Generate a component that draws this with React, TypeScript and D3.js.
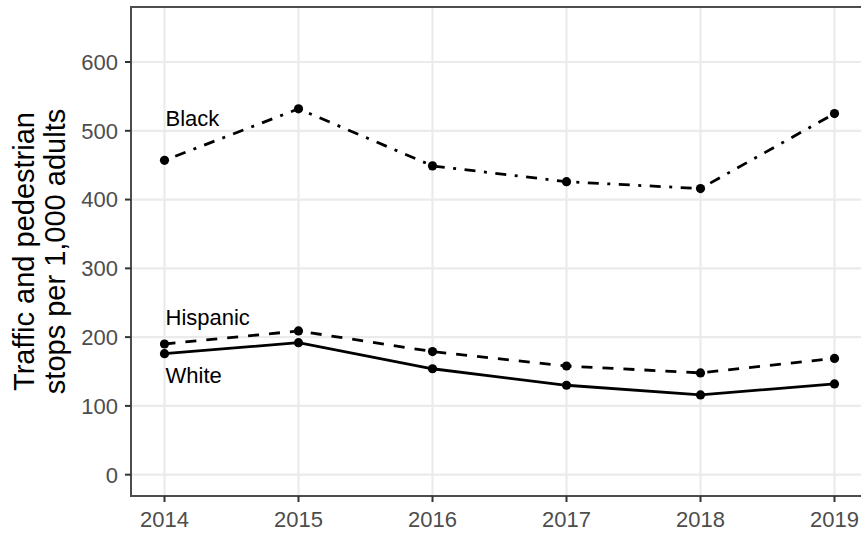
import * as d3 from "d3";

const years = [2014, 2015, 2016, 2017, 2018, 2019];
const blackStops = [457, 532, 449, 426, 416, 525];
const hispanicStops = [190, 209, 179, 158, 148, 169];
const whiteStops = [176, 192, 154, 130, 116, 132];
const yTicks = [0, 100, 200, 300, 400, 500, 600];

const W = 861;
const H = 533;
const FONT = "'Liberation Sans', Arial, Helvetica, sans-serif";

const series = [
  {name: "Black", values: blackStops, dash: "3,8.5,11,8.5", labelYear: 2014, labelDy: -34},
  {name: "Hispanic", values: hispanicStops, dash: "11,10", labelYear: 2014, labelDy: -19},
  {name: "White", values: whiteStops, dash: null, labelYear: 2014, labelDy: 29},
];

export default function App() {
  // panel edges
  const left = 131;
  const top = 7;
  const bottom = 496;

  const x = d3.scaleLinear().domain([2013.75, 2019.25]).range([left, left + 737]);
  const y = d3.scaleLinear().domain([-31, 680]).range([bottom, top]);

  const line = d3
    .line<number>()
    .x((_, i) => x(years[i]))
    .y((d) => y(d));

  return (
    <div style={{position: "fixed", left: 0, top: 0, background: "white"}}>
      <svg width={W} height={H} style={{display: "block", fontFamily: FONT}}>
        <rect x={0} y={0} width={W} height={H} fill="white" />

        {/* grid */}
        {yTicks.map((t) => (
          <line key={"gy" + t} x1={left} x2={W} y1={y(t)} y2={y(t)} stroke="#ebebeb" strokeWidth={2.2} />
        ))}
        {years.map((yr) => (
          <line key={"gx" + yr} x1={x(yr)} x2={x(yr)} y1={top} y2={bottom} stroke="#ebebeb" strokeWidth={2.2} />
        ))}

        {/* lines */}
        {series.map((s) => (
          <path
            key={s.name}
            d={line(s.values) ?? ""}
            fill="none"
            stroke="black"
            strokeWidth={2.8}
            strokeDasharray={s.dash ?? undefined}
          />
        ))}
        {series.map((s) =>
          s.values.map((v, i) => (
            <circle key={s.name + i} cx={x(years[i])} cy={y(v)} r={4.6} fill="black" />
          )),
        )}

        {/* labels */}
        {series.map((s) => {
          const i = years.indexOf(s.labelYear);
          return (
            <text key={"l" + s.name} x={x(s.labelYear) + 1} y={y(s.values[i]) + s.labelDy} fontSize={22} fill="black">
              {s.name}
            </text>
          );
        })}

        {/* panel border */}
        <line x1={left} x2={W} y1={top} y2={top} stroke="#4d4d4d" strokeWidth={2} />
        <line x1={left} x2={W} y1={bottom} y2={bottom} stroke="#4d4d4d" strokeWidth={2} />
        <line x1={left} x2={left} y1={top - 1} y2={bottom + 1} stroke="#4d4d4d" strokeWidth={2} />

        {/* y axis */}
        {yTicks.map((t) => (
          <g key={"ty" + t} transform={`translate(${left},${y(t)})`}>
            <line x1={-6} x2={0} stroke="#333" strokeWidth={2} />
            <text x={-13} dy="0.36em" textAnchor="end" fontSize={22} fill="#4d4d4d">
              {t}
            </text>
          </g>
        ))}

        {/* x axis */}
        {years.map((yr) => (
          <g key={"tx" + yr} transform={`translate(${x(yr)},${bottom})`}>
            <line y1={0} y2={6} stroke="#333" strokeWidth={2} />
            <text y={31} textAnchor="middle" fontSize={22} fill="#4d4d4d">
              {yr}
            </text>
          </g>
        ))}

        {/* axis title */}
        <text transform={`translate(34,${(top + bottom) / 2}) rotate(-90)`} textAnchor="middle" fontSize={29} fill="black">
          Traffic and pedestrian
        </text>
        <text transform={`translate(65,${(top + bottom) / 2}) rotate(-90)`} textAnchor="middle" fontSize={29} fill="black">
          stops per 1,000 adults
        </text>
      </svg>
    </div>
  );
}
